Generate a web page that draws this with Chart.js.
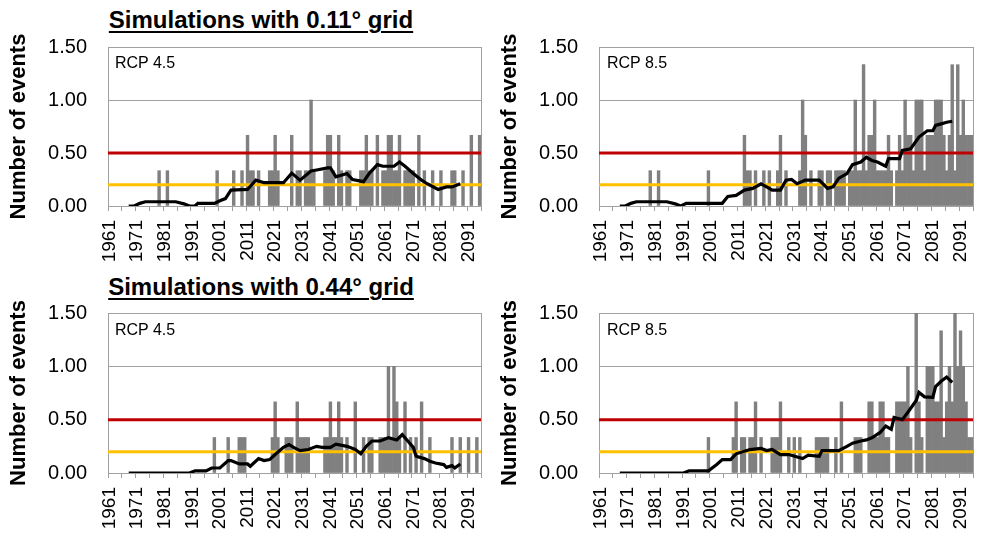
<!DOCTYPE html>
<html>
<head>
<meta charset="utf-8">
<script src="https://cdn.jsdelivr.net/npm/chart.js@4.4.1/dist/chart.umd.min.js"></script>
<style>
  body { margin: 0; background: #fff; width: 984px; height: 546px; overflow: hidden; position: relative;
         font-family: "Liberation Sans", Arial, sans-serif; }
  .box { position: absolute; }
  .title { position: absolute; font-weight: bold; font-size: 24px; line-height: 24px; white-space: nowrap;
           text-decoration: underline; text-decoration-thickness: 2px; text-underline-offset: 3px;
           transform: translateX(-50%); }
  .rcp { position: absolute; font-size: 16px; line-height: 16px; white-space: nowrap; }
</style>
</head>
<body>
<div class="title" style="left:261px; top:8px">Simulations with 0.11° grid</div>
<div class="title" style="left:261px; top:275px">Simulations with 0.44° grid</div>

<div class="box" style="left:0; top:33px; width:490px; height:243px"><canvas id="c1"></canvas></div>
<div class="box" style="left:491px; top:33px; width:491px; height:243px"><canvas id="c2"></canvas></div>
<div class="box" style="left:0; top:299px; width:490px; height:244px"><canvas id="c3"></canvas></div>
<div class="box" style="left:491px; top:299px; width:491px; height:244px"><canvas id="c4"></canvas></div>

<div class="rcp" style="left:115px; top:55px">RCP 4.5</div>
<div class="rcp" style="left:607px; top:55px">RCP 8.5</div>
<div class="rcp" style="left:115px; top:322px">RCP 4.5</div>
<div class="rcp" style="left:607px; top:322px">RCP 8.5</div>

<script>
'use strict';

var firstYear = 1961;
var lastYear = 2095;
var labelYears = [1961, 1971, 1981, 1991, 2001, 2011, 2021, 2031, 2041, 2051, 2061, 2071, 2081, 2091];
var yTicks = [0, 0.25, 0.5, 0.75, 1, 1.25, 1.5];
var redLevel = 0.5;
var yellowLevel = 0.2;

// yearly number of events, [year, value]
var bars011rcp45 = [[1979,0.333],[1982,0.333],[2000,0.333],[2006,0.333],[2009,0.333],[2011,0.667],[2012,0.333],
  [2013,0.333],[2015,0.333],[2019,0.333],[2020,0.333],[2021,0.667],[2022,0.333],[2027,0.667],[2029,0.333],
  [2030,0.333],[2032,0.333],[2033,0.333],[2034,1],[2035,0.333],[2039,0.333],[2040,0.667],[2041,0.667],
  [2042,0.333],[2044,0.667],[2045,0.333],[2047,0.333],[2048,0.333],[2052,0.333],[2053,0.333],[2054,0.667],
  [2055,0.333],[2056,0.333],[2058,0.667],[2060,0.333],[2061,0.333],[2062,0.667],[2063,0.667],[2064,0.333],
  [2065,0.333],[2066,0.667],[2068,0.333],[2069,0.333],[2070,0.333],[2071,0.333],[2073,0.667],[2075,0.333],
  [2078,0.333],[2081,0.333],[2085,0.333],[2086,0.333],[2089,0.333],[2092,0.667],[2095,0.667]];

var bars011rcp85 = [[1979,0.333],[1982,0.333],[2000,0.333],[2013,0.667],[2014,0.333],[2015,0.333],[2017,0.333],
  [2020,0.333],[2022,0.333],[2025,0.333],[2026,0.667],[2028,0.333],[2033,0.333],[2034,1],[2035,0.667],
  [2037,0.333],[2040,0.333],[2041,0.333],[2043,0.333],[2044,0.333],[2046,0.333],[2047,0.333],[2048,0.333],
  [2049,0.333],[2051,0.333],[2052,0.333],[2053,1],[2054,0.333],[2055,0.333],[2056,1.333],[2057,0.333],
  [2058,0.667],[2059,0.667],[2060,1],[2061,0.333],[2062,0.333],[2063,0.333],[2064,0.333],[2065,0.667],
  [2066,0.333],[2068,0.333],[2069,0.667],[2070,0.333],[2071,1],[2072,0.667],[2073,0.667],[2074,0.333],
  [2075,1],[2076,1],[2077,1],[2078,0.333],[2079,0.667],[2080,0.667],[2081,0.667],[2082,1],[2083,1],
  [2084,1],[2085,0.667],[2086,0.333],[2087,0.667],[2088,1.333],[2089,0.333],[2090,1.333],[2091,0.667],
  [2092,1],[2093,0.667],[2094,0.667],[2095,0.667]];

var bars044rcp45 = [[1999,0.333],[2004,0.333],[2008,0.333],[2009,0.333],[2010,0.333],[2020,0.333],[2021,0.667],
  [2022,0.333],[2025,0.333],[2026,0.333],[2027,0.333],[2029,0.667],[2030,0.333],[2031,0.333],[2032,0.333],
  [2033,0.333],[2039,0.333],[2040,0.333],[2041,0.667],[2042,0.333],[2043,0.333],[2044,0.667],[2045,0.333],
  [2047,0.333],[2050,0.667],[2053,0.333],[2055,0.333],[2056,0.333],[2059,0.333],[2060,0.333],[2061,0.333],
  [2062,1],[2063,0.333],[2064,1],[2065,0.667],[2066,0.333],[2068,0.667],[2070,0.333],[2072,0.333],
  [2074,0.667],[2077,0.333],[2085,0.333],[2088,0.333],[2091,0.333],[2094,0.333]];

var bars044rcp85 = [[2000,0.333],[2009,0.333],[2010,0.667],[2012,0.333],[2013,0.333],[2015,0.333],[2016,0.333],
  [2017,0.667],[2019,0.333],[2023,0.333],[2024,0.333],[2025,0.333],[2026,0.667],[2029,0.333],[2031,0.333],
  [2033,0.333],[2039,0.333],[2040,0.333],[2041,0.333],[2042,0.333],[2043,0.333],[2046,0.333],[2048,0.667],
  [2053,0.333],[2054,0.333],[2055,0.333],[2058,0.667],[2059,0.667],[2060,0.333],[2061,0.333],[2062,0.667],
  [2063,0.667],[2064,0.333],[2065,0.333],[2068,0.667],[2069,0.667],[2070,0.667],[2071,0.667],[2072,1],
  [2073,0.333],[2075,1.667],[2076,0.667],[2077,0.333],[2079,1],[2080,1],[2081,1],[2082,0.667],[2083,0.667],
  [2084,1.333],[2085,0.333],[2086,0.667],[2087,1],[2088,0.667],[2089,1.667],[2090,1],[2091,1.333],
  [2092,1],[2093,0.667],[2094,0.333],[2095,0.333]];

// running mean (black line), [year, value]
var mean011rcp45 = [[1968,0],[1970,0],[1972,0.025],[1974,0.04],[1985,0.04],[1988,0.02],[1990,0],[1992,0],
  [1993,0.025],[1999,0.025],[2001,0.05],[2003,0.07],[2005,0.15],[2011,0.156],[2014,0.244],[2017,0.22],
  [2024,0.22],[2027,0.31],[2030,0.244],[2034,0.33],[2036,0.34],[2040,0.36],[2041,0.36],[2043,0.275],
  [2047,0.306],[2049,0.25],[2053,0.23],[2055,0.306],[2058,0.39],[2060,0.375],[2064,0.375],[2066,0.415],
  [2068,0.375],[2071,0.306],[2074,0.244],[2076,0.21],[2080,0.156],[2083,0.18],[2085,0.18],[2088,0.21]];

var mean011rcp85 = [[1968,0],[1970,0],[1972,0.025],[1974,0.04],[1985,0.04],[1988,0.02],[1990,0],[1992,0.025],
  [2005,0.025],[2007,0.09],[2010,0.1],[2013,0.15],[2016,0.166],[2019,0.21],[2021,0.18],[2023,0.15],
  [2026,0.15],[2028,0.244],[2030,0.25],[2032,0.21],[2035,0.244],[2040,0.244],[2043,0.166],[2045,0.18],
  [2047,0.26],[2050,0.306],[2052,0.39],[2055,0.415],[2057,0.46],[2059,0.43],[2061,0.415],[2064,0.375],
  [2065,0.447],[2069,0.447],[2070,0.525],[2073,0.54],[2076,0.65],[2079,0.71],[2081,0.71],[2082,0.76],
  [2084,0.775],[2086,0.79],[2088,0.8]];

var mean044rcp45 = [[1968,0],[1990,0],[1992,0.02],[1996,0.02],[1998,0.047],[2001,0.047],[2004,0.116],
  [2005,0.116],[2008,0.085],[2011,0.085],[2012,0.063],[2015,0.135],[2017,0.116],[2019,0.126],[2021,0.173],
  [2024,0.24],[2026,0.267],[2028,0.236],[2030,0.21],[2033,0.22],[2036,0.25],[2038,0.24],[2041,0.24],
  [2043,0.27],[2047,0.25],[2050,0.22],[2052,0.18],[2054,0.25],[2056,0.3],[2059,0.3],[2062,0.33],
  [2065,0.31],[2067,0.36],[2069,0.3],[2071,0.24],[2072,0.157],[2075,0.135],[2077,0.11],[2079,0.094],
  [2082,0.079],[2083,0.053],[2085,0.069],[2086,0.047],[2088,0.085]];

var mean044rcp85 = [[1968,0],[1991,0],[1993,0.02],[2000,0.02],[2003,0.08],[2005,0.126],[2008,0.126],
  [2010,0.18],[2015,0.22],[2019,0.23],[2021,0.21],[2023,0.22],[2026,0.173],[2029,0.173],[2034,0.135],
  [2036,0.167],[2040,0.157],[2041,0.21],[2047,0.21],[2050,0.25],[2052,0.28],[2055,0.3],[2057,0.31],
  [2059,0.33],[2062,0.38],[2064,0.44],[2066,0.41],[2067,0.52],[2070,0.5],[2072,0.57],[2075,0.68],
  [2076,0.755],[2078,0.714],[2081,0.71],[2082,0.81],[2084,0.86],[2086,0.9],[2088,0.85]];

var fontFamily = '"Liberation Sans", Arial, sans-serif';
var gridGray = '#a0a0a0';

// tick marks every 5 years between categories; labels every 10 years, nudged onto the category
var tickValues = [];
for (var i = 0; i <= (lastYear - firstYear + 1); i += 5) {
  tickValues.push(firstYear - 0.5 + i);
}

function toPoints(list) {
  return list.map(function(p) { return {x: p[0], y: p[1]}; });
}

function levelLine(v) {
  return [{x: firstYear - 0.5, y: v}, {x: lastYear + 0.5, y: v}];
}

function makeChart(id, bars, mean) {
  new Chart(document.getElementById(id), {
    type: 'bar',
    data: {
      datasets: [
        {type: 'line', data: toPoints(mean), borderColor: '#000', borderWidth: 3.2,
         pointRadius: 0, tension: 0, order: 1, clip: 0},
        {type: 'line', data: levelLine(redLevel), borderColor: '#c00000', borderWidth: 3,
         pointRadius: 0, order: 2, clip: 0},
        {type: 'line', data: levelLine(yellowLevel), borderColor: '#ffc000', borderWidth: 3,
         pointRadius: 0, order: 3, clip: 0},
        {type: 'bar', data: toPoints(bars), backgroundColor: '#808080', borderWidth: 0,
         barPercentage: 1, categoryPercentage: 1, order: 4, clip: 0}
      ]
    },
    options: {
      responsive: true,
      maintainAspectRatio: false,
      animation: false,
      layout: {padding: {top: 14, right: 9, left: 0, bottom: 0}},
      plugins: {legend: {display: false}, tooltip: {enabled: false}},
      scales: {
        x: {
          type: 'linear',
          min: firstYear - 0.5,
          max: lastYear + 0.5,
          offset: false,
          afterBuildTicks: function(s) {
            s.ticks = tickValues.map(function(v) { return {value: v}; });
          },
          afterFit: function(s) {
            s.height = 70;
            s.paddingLeft = 0;
            s.paddingRight = 0;
          },
          ticks: {
            autoSkip: false, minRotation: 90, maxRotation: 90, padding: 9, color: '#000',
            labelOffset: 1.4,
            font: {size: 19, family: fontFamily},
            callback: function(v) {
              var y = v + 0.5;
              return labelYears.indexOf(y) >= 0 ? String(y) : '';
            }
          },
          grid: {offset: false, drawOnChartArea: false, drawTicks: true, tickLength: 5, tickColor: gridGray},
          border: {color: gridGray}
        },
        y: {
          min: 0,
          max: 1.5,
          afterBuildTicks: function(s) {
            s.ticks = yTicks.map(function(v) { return {value: v}; });
          },
          afterFit: function(s) {
            s.width = 108;
            s.paddingTop = 0;
            s.paddingBottom = 0;
          },
          ticks: {
            padding: 21, color: '#000', font: {size: 20, family: fontFamily},
            callback: function(v) { return Number(v).toFixed(2); }
          },
          grid: {color: gridGray, drawTicks: false},
          border: {color: gridGray},
          title: {
            display: true, text: 'Number of events', color: '#000',
            font: {size: 22, weight: 'bold', family: fontFamily},
            padding: {top: 6, bottom: 0}
          }
        },
        y2: {
          position: 'right',
          min: 0,
          max: 1.5,
          afterFit: function(s) {
            s.width = 0;
            s.paddingTop = 0;
            s.paddingBottom = 0;
          },
          ticks: {display: false},
          grid: {drawOnChartArea: false, drawTicks: false},
          border: {display: true, color: gridGray}
        }
      }
    }
  });
}

makeChart('c1', bars011rcp45, mean011rcp45);
makeChart('c2', bars011rcp85, mean011rcp85);
makeChart('c3', bars044rcp45, mean044rcp45);
makeChart('c4', bars044rcp85, mean044rcp85);
</script>
</body>
</html>
